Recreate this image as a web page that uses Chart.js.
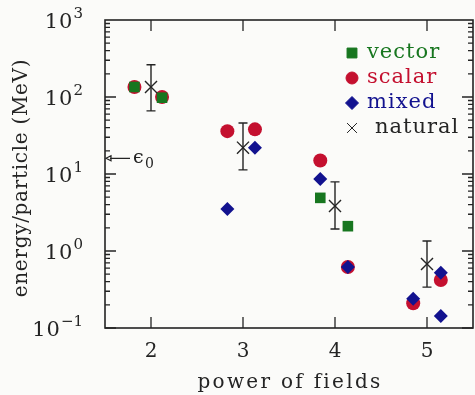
<!DOCTYPE html>
<html>
<head>
<meta charset="utf-8">
<script src="https://cdn.jsdelivr.net/npm/chart.js@4/dist/chart.umd.min.js"></script>
<style>
	html, body { margin: 0; padding: 0; background: #fbfbf9; }
</style>
</head>
<body>
<canvas id="target" width="475" height="395"></canvas>
<script>
// values (log y axis)
const vectorX = [1.82, 2.12, 3.84, 4.14];
const vectorY = [135, 98, 4.9, 2.1];
const scalarX = [1.82, 2.12, 2.83, 3.13, 3.84, 4.14, 4.85, 5.15];
const scalarY = [135, 100, 36, 38, 15, 0.62, 0.21, 0.42];
const mixedX = [2.83, 3.13, 3.84, 4.14, 4.85, 5.15, 5.15];
const mixedY = [3.5, 22, 8.6, 0.62, 0.24, 0.52, 0.143];
const naturalX = [2, 3, 4, 5];
const naturalY = [135, 22, 3.85, 0.68];
const naturalLow = [66, 11.3, 1.93, 0.34];
const naturalHigh = [262, 46, 7.9, 1.35];

const xTicks = [2, 3, 4, 5];
const yTicks = [0.1, 1, 10, 100, 1000];
const yTickExp = ['−1', '0', '1', '2', '3'];
const eps0 = 16;

const xTitle = 'power of fields';
const yTitle = 'energy/particle (MeV)';

const serif = '"DejaVu Serif", "Liberation Serif", serif';
const ink = '#242424';
const green = '#17761f';
const red = '#c4102f';
const blue = '#12128f';

const pts = (xs, ys) => xs.map((x, i) => ({x: x, y: ys[i]}));

const legendItems = [
	{text: 'vector', color: green, style: 'rect', radius: 7, dx: 15},
	{text: 'scalar', color: red, style: 'circle', radius: 6, dx: 15},
	{text: 'mixed', color: blue, style: 'rectRot', radius: 6.5, dx: 15},
	{text: 'natural', color: ink, style: 'crossRot', radius: 7, dx: 23}
];

// text centred by hand so letter spacing does not shift it
function spacedText(ctx, text, cx, cy, font, spacing) {
	ctx.font = font;
	ctx.letterSpacing = spacing;
	const w = ctx.measureText(text).width;
	ctx.textAlign = 'left';
	ctx.fillText(text, cx - w / 2, cy);
}

// box, inward ticks, error bars, eps0 marker, titles
const frame = {
	id: 'frame',
	beforeDatasetsDraw(chart) {
		const {ctx, chartArea: a, scales: {x, y}} = chart;
		ctx.save();
		ctx.strokeStyle = ink;
		ctx.lineWidth = 1.6;
		ctx.strokeRect(a.left, a.top, a.right - a.left, a.bottom - a.top);
		ctx.lineWidth = 1.3;
		ctx.beginPath();
		xTicks.forEach(v => {
			const px = x.getPixelForValue(v);
			ctx.moveTo(px, a.bottom); ctx.lineTo(px, a.bottom - 11);
			ctx.moveTo(px, a.top); ctx.lineTo(px, a.top + 11);
		});
		for (let e = -1; e < 3; e++) {
			for (let m = 1; m < 10; m++) {
				const py = y.getPixelForValue(m * Math.pow(10, e));
				const len = m === 1 ? 11 : 5;
				ctx.moveTo(a.left, py); ctx.lineTo(a.left + len, py);
				ctx.moveTo(a.right, py); ctx.lineTo(a.right - len, py);
			}
		}
		ctx.stroke();

		// error bars of the natural estimate
		ctx.lineWidth = 1.4;
		ctx.beginPath();
		naturalX.forEach((v, i) => {
			const px = x.getPixelForValue(v);
			const lo = y.getPixelForValue(naturalLow[i]);
			const hi = y.getPixelForValue(naturalHigh[i]);
			ctx.moveTo(px, lo); ctx.lineTo(px, hi);
			ctx.moveTo(px - 4.5, lo); ctx.lineTo(px + 4.5, lo);
			ctx.moveTo(px - 4.5, hi); ctx.lineTo(px + 4.5, hi);
		});
		ctx.stroke();

		// eps0 arrow on the left axis
		const ey = y.getPixelForValue(eps0);
		ctx.lineWidth = 1.2;
		ctx.beginPath();
		ctx.moveTo(a.left + 5, ey); ctx.lineTo(a.left + 25, ey);
		ctx.moveTo(a.left + 1, ey); ctx.lineTo(a.left + 6, ey - 2.5); ctx.lineTo(a.left + 6, ey + 2.5); ctx.closePath();
		ctx.stroke();
		ctx.fillStyle = ink;
		ctx.textBaseline = 'middle';
		ctx.font = '19px ' + serif;
		ctx.fillText('ϵ', a.left + 28, ey);
		ctx.font = '14px ' + serif;
		ctx.fillText('0', a.left + 40, ey + 6);

		// y tick labels as 10 with a raised exponent
		yTicks.forEach((v, i) => {
			const py = y.getPixelForValue(v);
			ctx.font = '15px ' + serif;
			ctx.letterSpacing = '0px';
			const ew = ctx.measureText(yTickExp[i]).width;
			const right = a.left - 22;
			ctx.textAlign = 'right';
			ctx.fillText(yTickExp[i], right, py - 6);
			ctx.font = '21px ' + serif;
			ctx.letterSpacing = '1px';
			ctx.fillText('10', right - ew, py + 3);
		});

		// axis titles
		spacedText(ctx, xTitle, (a.left + a.right) / 2 + 1, 383, '20px ' + serif, '2.3px');
		ctx.translate(22, (a.top + a.bottom) / 2 + 4);
		ctx.rotate(-Math.PI / 2);
		spacedText(ctx, yTitle, 0, 0, '20px ' + serif, '0.7px');
		ctx.restore();
	},
	afterDatasetsDraw(chart) {
		const {ctx, chartArea: a} = chart;
		ctx.save();
		ctx.font = '21px ' + serif;
		ctx.letterSpacing = '1px';
		ctx.textBaseline = 'middle';
		legendItems.forEach((it, i) => {
			const cy = a.top + 33 + i * 25;
			const cx = a.right - 121;
			ctx.fillStyle = it.color;
			ctx.strokeStyle = it.color;
			Chart.helpers.drawPoint(ctx, {pointStyle: it.style, radius: it.radius, rotation: 0, borderWidth: 1.3}, cx, cy);
			ctx.fillText(it.text, cx + it.dx, cy);
		});
		ctx.restore();
	}
};

new Chart(document.getElementById('target'), {
	type: 'scatter',
	data: {
		datasets: [{
			label: 'vector',
			data: pts(vectorX, vectorY),
			pointStyle: 'rect',
			pointRadius: 7.5,
			backgroundColor: green,
			borderColor: green,
			borderWidth: 0,
			order: 2
		}, {
			label: 'scalar',
			data: pts(scalarX, scalarY),
			pointStyle: 'circle',
			pointRadius: 7,
			backgroundColor: red,
			borderColor: red,
			borderWidth: 0,
			order: 3
		}, {
			label: 'mixed',
			data: pts(mixedX, mixedY),
			pointStyle: 'rectRot',
			pointRadius: 7,
			backgroundColor: blue,
			borderColor: blue,
			borderWidth: 0,
			order: 1
		}, {
			label: 'natural',
			data: pts(naturalX, naturalY),
			pointStyle: 'crossRot',
			pointRadius: 8.5,
			backgroundColor: ink,
			borderColor: ink,
			borderWidth: 1.4,
			order: 0
		}]
	},
	options: {
		responsive: false,
		animation: false,
		layout: {autoPadding: false, padding: {top: 20, right: 2}},
		plugins: {
			legend: {display: false},
			tooltip: {enabled: false}
		},
		scales: {
			x: {
				type: 'linear',
				min: 1.5,
				max: 5.5,
				afterBuildTicks: s => { s.ticks = xTicks.map(v => ({value: v})); },
				afterFit: s => { s.height = 67; s.paddingLeft = 0; s.paddingRight = 0; },
				grid: {display: false, drawTicks: false},
				border: {display: false},
				ticks: {padding: 12, autoSkip: false, color: ink, font: {family: serif, size: 20}}
			},
			y: {
				type: 'logarithmic',
				min: 0.1,
				max: 1000,
				afterBuildTicks: s => { s.ticks = yTicks.map(v => ({value: v})); },
				afterFit: s => { s.width = 105; s.paddingTop = 0; s.paddingBottom = 0; },
				grid: {display: false, drawTicks: false},
				border: {display: false},
				ticks: {display: false}
			}
		}
	},
	plugins: [frame]
});
</script>
</body>
</html>
